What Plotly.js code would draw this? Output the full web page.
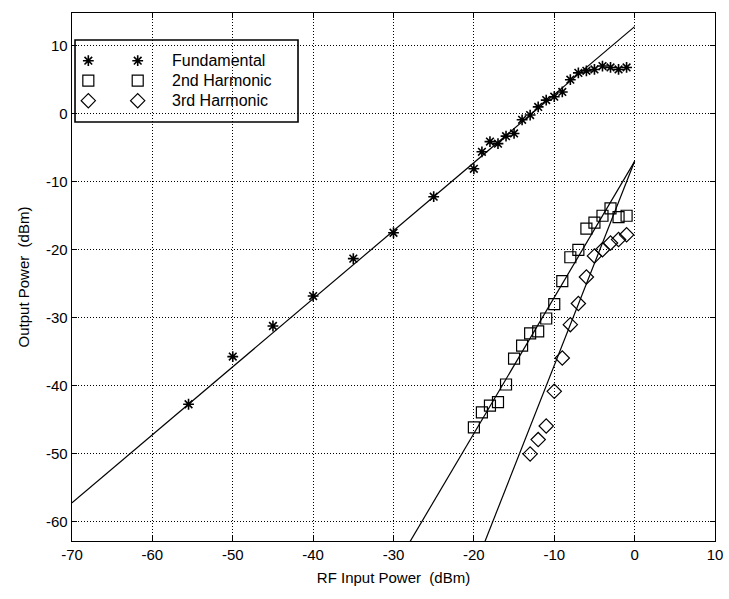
<!DOCTYPE html>
<html>
<head>
<meta charset="utf-8">
<script src="https://cdn.plot.ly/plotly-3.0.1.min.js"></script>
<style>html,body{margin:0;padding:0;background:#fff;}#chart{width:729px;height:599px;}</style>
</head>
<body>
<div id="chart"></div>
<script>
// ---- data ----
const fundX = [-55.5, -50, -45, -40, -35, -30, -25, -20, -19, -18, -17, -16, -15, -14, -13, -12, -11, -10, -9, -8, -7, -6, -5, -4, -3, -2, -1];
const fundY = [-42.7, -35.7, -31.2, -26.8, -21.3, -17.5, -12.2, -8.1, -5.6, -4.1, -4.4, -3.3, -2.9, -0.9, -0.2, 1.0, 2.0, 2.5, 3.2, 5.0, 6.0, 6.3, 6.5, 7.0, 6.8, 6.5, 6.8];
const h2X = [-20, -19, -18, -17, -16, -15, -14, -13, -12, -11, -10, -9, -8, -7, -6, -5, -4, -3, -2, -1];
const h2Y = [-46.1, -43.9, -42.9, -42.4, -39.8, -36.0, -34.1, -32.3, -32.0, -30.1, -28.0, -24.6, -21.1, -20.0, -16.9, -16.0, -15.0, -13.9, -15.2, -15.0];
const h3X = [-13, -12, -11, -10, -9, -8, -7, -6, -5, -4, -3, -2, -1];
const h3Y = [-50.0, -47.9, -45.9, -40.8, -35.9, -31.0, -27.9, -24.0, -20.9, -20.0, -19.0, -18.5, -17.8];
// fitted lines (end points)
const fundFitX = [-70, 0];
const fundFitY = [-57.2, 12.8];
const h2FitX = [-30, 0];
const h2FitY = [-67, -7];
const h3FitX = [-20, 0];
const h3FitY = [-67, -7];
const xTicks = [-70, -60, -50, -40, -30, -20, -10, 0, 10];
const yTicks = [-60, -50, -40, -30, -20, -10, 0, 10];
const legendNames = ['Fundamental', '2nd Harmonic', '3rd Harmonic'];
const legendSymbols = ['asterisk-open', 'square-open', 'diamond-open'];

const FONT = 'Liberation Sans, Arial, Helvetica, sans-serif';
const lineStyle = {color: '#000', width: 1.2};
const markerStyles = [
  {symbol: 'asterisk-open', size: 9, color: '#000', line: {color: '#000', width: 1.6}},
  {symbol: 'square-open', size: 11, color: '#000', line: {color: '#000', width: 1.2}},
  {symbol: 'diamond-open', size: 11, color: '#000', line: {color: '#000', width: 1.2}}
];

const traces = [
  {x: fundFitX, y: fundFitY, mode: 'lines', line: lineStyle, showlegend: false, hoverinfo: 'skip'},
  {x: h2FitX, y: h2FitY, mode: 'lines', line: lineStyle, showlegend: false, hoverinfo: 'skip'},
  {x: h3FitX, y: h3FitY, mode: 'lines', line: lineStyle, showlegend: false, hoverinfo: 'skip'},
  {x: fundX, y: fundY, mode: 'markers', name: 'Fundamental', showlegend: false, marker: markerStyles[0]},
  {x: h2X, y: h2Y, mode: 'markers', name: '2nd Harmonic', showlegend: false, marker: markerStyles[1]},
  {x: h3X, y: h3Y, mode: 'markers', name: '3rd Harmonic', showlegend: false, marker: markerStyles[2]}
];

// custom MATLAB-style legend (two markers per entry) on a hidden overlay axis spanning the plot area
const legRowsY = [0.9097, 0.8718, 0.8339];
const legMarkX = [0.0254, 0.1022];
const annotations = [];
legendNames.forEach((nm, i) => {
  traces.push({x: legMarkX, y: [legRowsY[i], legRowsY[i]], xaxis: 'x2', yaxis: 'y2', mode: 'markers',
    showlegend: false, hoverinfo: 'skip', marker: markerStyles[i]});
  annotations.push({xref: 'paper', yref: 'paper', x: 0.1524, y: legRowsY[i], xanchor: 'left', yanchor: 'middle',
    text: nm, showarrow: false, font: {family: FONT, size: 16, color: '#000'}});
});

const axisCommon = {
  showline: true, linecolor: '#000', linewidth: 1.3, mirror: 'ticks',
  ticks: 'inside', ticklen: 5, tickcolor: '#000', tickwidth: 1,
  showgrid: true, gridcolor: '#000', gridwidth: 1, griddash: '1px,2px',
  zeroline: false, tickfont: {family: FONT, size: 15, color: '#000'}
};

const layout = {
  width: 729, height: 599,
  margin: {l: 72, r: 14, t: 13, b: 58},
  paper_bgcolor: '#fff', plot_bgcolor: '#fff',
  showlegend: false,
  xaxis: Object.assign({}, axisCommon, {range: [-70, 10], tickvals: xTicks, ticktext: xTicks.map(String),
    title: {text: 'RF Input Power  (dBm)', font: {family: FONT, size: 15, color: '#000'}, standoff: 10}}),
  yaxis: Object.assign({}, axisCommon, {range: [-62.8, 14.8], tickvals: yTicks, ticktext: yTicks.map(String),
    title: {text: 'Output Power  (dBm)', font: {family: FONT, size: 15, color: '#000'}, standoff: 12}}),
  xaxis2: {overlaying: 'x', range: [0, 1], visible: false, anchor: 'y2', fixedrange: true},
  yaxis2: {overlaying: 'y', range: [0, 1], visible: false, anchor: 'x2', fixedrange: true},
  shapes: [{type: 'rect', xref: 'paper', yref: 'paper', x0: 0.0047, x1: 0.3515, y0: 0.7936, y1: 0.9489,
    line: {color: '#000', width: 1.6}, fillcolor: '#fff', layer: 'between'}],
  annotations: annotations
};

Plotly.newPlot('chart', traces, layout, {displayModeBar: false, staticPlot: true});
</script>
</body>
</html>
